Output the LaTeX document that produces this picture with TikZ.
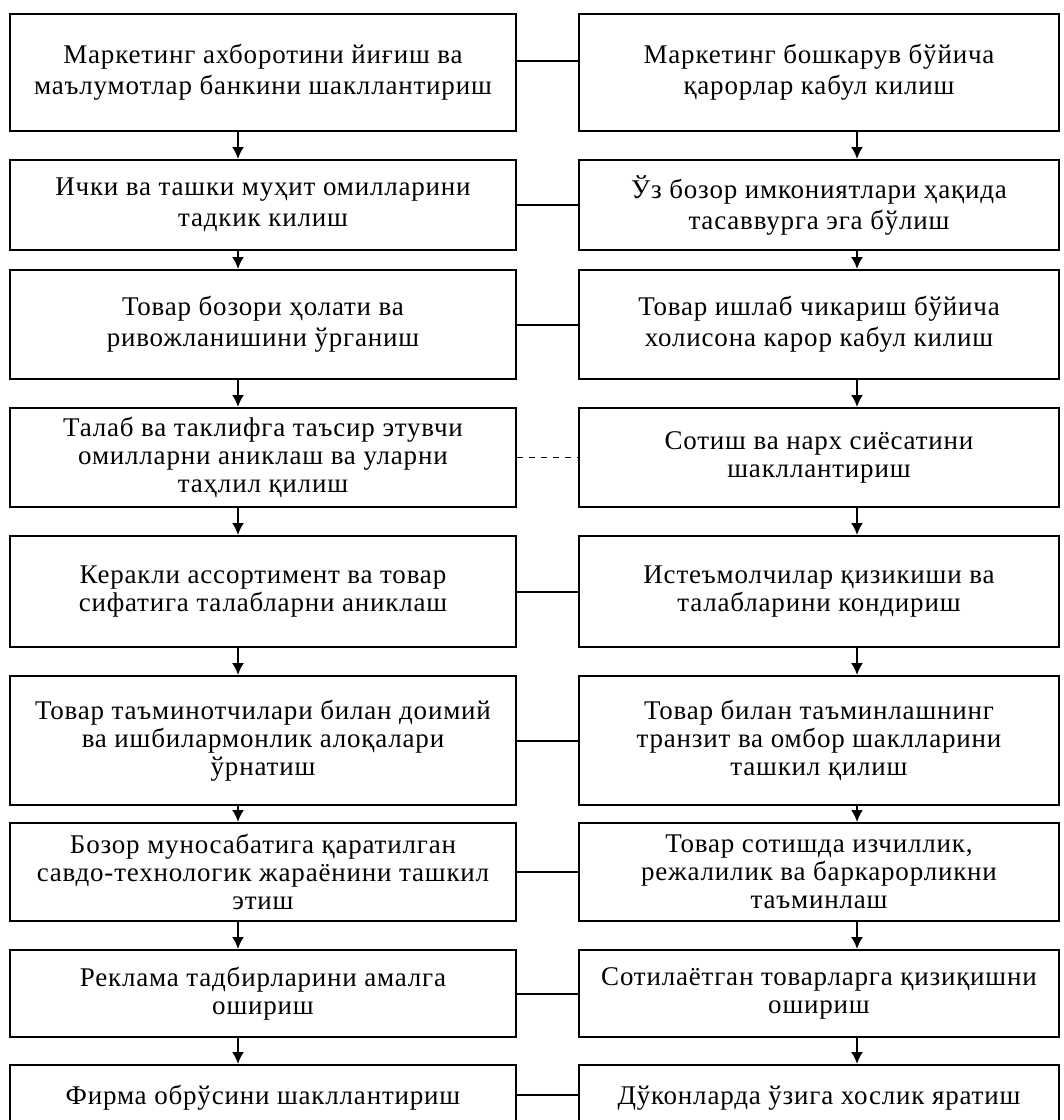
\documentclass[tikz,border=0pt]{standalone}
\usepackage{fontspec}
\setmainfont{Liberation Serif}[LetterSpace=3]
\usetikzlibrary{arrows.meta}

\begin{document}
\begin{tikzpicture}[x=0.5pt,y=-0.5pt,
  box/.style={draw,line width=1pt,align=center,inner sep=0pt,font=\fontsize{13.5}{14}\selectfont},
  loose/.style={font=\fontsize{13.5}{15.5}\selectfont},
  lbox/.style={box,minimum width=253pt},
  rbox/.style={box,minimum width=240pt},
  link/.style={line width=1pt},
  down/.style={line width=1pt,-{Latex[length=6pt,width=6pt]}}]
\useasboundingbox (0,0) rectangle (1064,1120);
\clip (0,0) rectangle (1064,1120);
\node[lbox,loose,minimum height=58.5pt] (l1) at (263,72.5) {Маркетинг ахборотини йиғиш ва\\маълумотлар банкини шакллантириш};
\node[lbox,loose,minimum height=45pt] (l2) at (263,205) {Ички ва ташки муҳит омилларини\\тадкик килиш};
\node[lbox,loose,minimum height=54.5pt] (l3) at (263,324.5) {Товар бозори ҳолати ва\\ривожланишини ўрганиш};
\node[lbox,minimum height=49.5pt] (l4) at (263,457.5) {Талаб ва таклифга таъсир этувчи\\омилларни аниклаш ва уларни\\таҳлил қилиш};
\node[lbox,minimum height=55.5pt] (l5) at (263,591.5) {Керакли ассортимент ва товар\\сифатига талабларни аниклаш};
\node[lbox,minimum height=64.5pt] (l6) at (263,740.5) {Товар таъминотчилари билан доимий\\ва ишбилармонлик алоқалари\\ўрнатиш};
\node[lbox,minimum height=49pt] (l7) at (263,872) {Бозор муносабатига қаратилган\\савдо-технологик жараёнини ташкил\\этиш};
\node[lbox,minimum height=43.5pt] (l8) at (263,993.5) {Реклама тадбирларини амалга\\ошириш};
\node[lbox,minimum height=30pt,text depth=0pt] (l9) at (263,1095) {Фирма обрўсини шакллантириш};
\node[rbox,loose,minimum height=58.5pt] (r1) at (819,72.5) {Маркетинг бошкарув бўйича\\қарорлар кабул килиш};
\node[rbox,loose,minimum height=45pt] (r2) at (819,205) {Ўз бозор имкониятлари ҳақида\\тасаввурга эга бўлиш};
\node[rbox,loose,minimum height=54.5pt] (r3) at (819,324.5) {Товар ишлаб чикариш бўйича\\холисона карор кабул килиш};
\node[rbox,minimum height=49.5pt] (r4) at (819,457.5) {Сотиш ва нарх сиёсатини\\шакллантириш};
\node[rbox,minimum height=55.5pt] (r5) at (819,591.5) {Истеъмолчилар қизикиши ва\\талабларини кондириш};
\node[rbox,minimum height=64.5pt] (r6) at (819,740.5) {Товар билан таъминлашнинг\\транзит ва омбор шаклларини\\ташкил қилиш};
\node[rbox,minimum height=49pt] (r7) at (819,872) {Товар сотишда изчиллик,\\режалилик ва баркарорликни\\таъминлаш};
\node[rbox,minimum height=43.5pt] (r8) at (819,993.5) {Сотилаётган товарларга қизиқишни\\ошириш};
\node[rbox,minimum height=30pt,text depth=0pt] (r9) at (819,1095) {Дўконларда ўзига хослик яратиш};
\coordinate (lx) at (238,0);
\coordinate (rx) at (857,0);
\draw[down] (l1.south -| lx) -- (l2.north -| lx);
\draw[down] (l2.south -| lx) -- (l3.north -| lx);
\draw[down] (l3.south -| lx) -- (l4.north -| lx);
\draw[down] (l4.south -| lx) -- (l5.north -| lx);
\draw[down] (l5.south -| lx) -- (l6.north -| lx);
\draw[down] (l6.south -| lx) -- (l7.north -| lx);
\draw[down] (l7.south -| lx) -- (l8.north -| lx);
\draw[down] (l8.south -| lx) -- (l9.north -| lx);
\draw[down] (r1.south -| rx) -- (r2.north -| rx);
\draw[down] (r2.south -| rx) -- (r3.north -| rx);
\draw[down] (r3.south -| rx) -- (r4.north -| rx);
\draw[down] (r4.south -| rx) -- (r5.north -| rx);
\draw[down] (r5.south -| rx) -- (r6.north -| rx);
\draw[down] (r6.south -| rx) -- (r7.north -| rx);
\draw[down] (r7.south -| rx) -- (r8.north -| rx);
\draw[down] (r8.south -| rx) -- (r9.north -| rx);
\draw[link] ([yshift=5.75pt]l1.east) -- ([yshift=5.75pt]l1.east -| r1.west);
\draw[link] (l2.east) -- (r2.west);
\draw[link] (l3.east) -- (r3.west);
\draw[link,dashed,line width=0.5pt] (l4.east) -- (r4.west);
\draw[link] (l5.east) -- (r5.west);
\draw[link] (l6.east) -- (r6.west);
\draw[link] (l7.east) -- (r7.west);
\draw[link] (l8.east) -- (r8.west);
\draw[link] (l9.east) -- (r9.west);
\end{tikzpicture}
\end{document}
